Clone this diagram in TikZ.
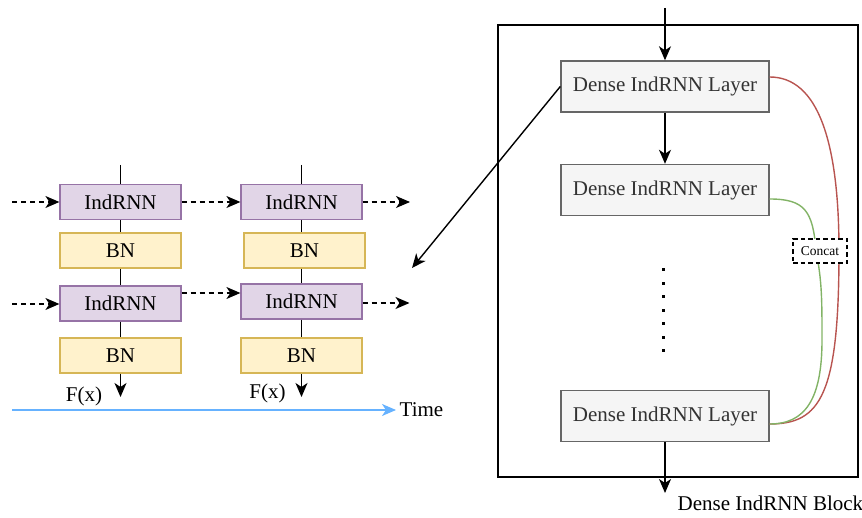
\documentclass[tikz,border=0pt]{standalone}
\usepackage{fontspec}
\setmainfont{Liberation Serif}
\usetikzlibrary{positioning,arrows.meta}
\definecolor{indfill}{HTML}{E1D5E7}
\definecolor{indline}{HTML}{9673A6}
\definecolor{bnfill}{HTML}{FFF2CC}
\definecolor{bnline}{HTML}{D6B656}
\definecolor{layfill}{HTML}{F5F5F5}
\definecolor{layline}{HTML}{666666}
\definecolor{laytext}{HTML}{333333}
\definecolor{redline}{HTML}{B85450}
\definecolor{greenline}{HTML}{82B366}
\definecolor{timeblue}{HTML}{66B2FF}
\tikzset{
  cellbox/.style={minimum width=121pt, minimum height=35pt, inner sep=0pt, line width=1.2pt},
  indbox/.style={cellbox, draw=indline, fill=indfill},
  bnbox/.style={cellbox, draw=bnline, fill=bnfill},
  layerbox/.style={draw=layline, fill=layfill, text=laytext, line width=1.4pt,
    minimum width=208pt, minimum height=51pt, inner sep=0pt},
  arr/.style={-{Stealth[length=14pt,width=12pt,inset=4pt]}},
  dasharr/.style={arr, dash pattern=on 5pt off 4pt},
}
\begin{document}
\begin{tikzpicture}[x=1pt, y=-1pt, line width=1.4pt, font=\fontsize{21}{25}\selectfont]
        \useasboundingbox (0,0) rectangle (862,518);
        % left: unrolled IndRNN cells
        \node [indbox] (i1a) at (120.5,202) {IndRNN};
        \node [bnbox, on grid, below=48.5pt of i1a] (b1a) {BN};
        \node [indbox, on grid, below=53pt of b1a] (i2a) {IndRNN};
        \node [bnbox, on grid, below=52pt of i2a] (b2a) {BN};
        \node [indbox, on grid, right=181pt of i1a] (i1b) {IndRNN};
        \node [bnbox, on grid, below right=48.5pt and 3pt of i1b] (b1b) {BN};
        \node [indbox, on grid, below left=51pt and 3pt of b1b] (i2b) {IndRNN};
        \node [bnbox, on grid, below=54pt of i2b] (b2b) {BN};
        \coordinate [on grid, above=37pt of i1a] (topa);
        \coordinate [on grid, above=37pt of i1b] (topb);
        \coordinate [on grid, below=41.5pt of b2a] (outa);
        \coordinate [on grid, below=41.5pt of b2b] (outb);
        \node [on grid, below left=40.5pt and 36.5pt of b2a] (fxa) {F(x)};
        \node [on grid, below left=37.5pt and 34pt of b2b] (fxb) {F(x)};
        \draw (topa) to (i1a);
        \draw (i1a) to (b1a);
        \draw (b1a) to (i2a);
        \draw (i2a) to (b2a);
        \draw [arr] (b2a) to (outa);
        \draw (topb) to (i1b);
        \draw (i1b) to (i1b |- b1b.north);
        \draw (b1b.south -| i2b) to (i2b);
        \draw (i2b) to (b2b);
        \draw [arr] (b2b) to (outb);
        % recurrent connections
        \coordinate [on grid, left=108.5pt of i1a] (ina1);
        \coordinate [on grid, left=108.5pt of i2a] (ina2);
        \coordinate [on grid, right=108.5pt of i1b] (outb1);
        \coordinate [on grid, right=108pt of i2b] (outb2);
        \draw [dasharr] (ina1) to (i1a);
        \draw [dasharr] (i1a) to (i1b);
        \draw [dasharr] (i1b) to (outb1);
        \draw [dasharr] ([yshift=-0.5pt]ina2) to ([yshift=-0.5pt]i2a.west);
        \draw [dasharr] ([yshift=10.5pt]i2a.east) to ([yshift=8.5pt]i2b.west);
        \draw [dasharr] ([yshift=-1.5pt]i2b.east) to ([yshift=-1.5pt]outb2);
        % time axis
        \coordinate (ts) at (12,410);
        \coordinate (te) at (396,410);
        \draw [arr, timeblue] (ts) to (te);
        \node [anchor=west, inner sep=0pt] (time) at ([xshift=3pt]te) {Time};
        % right: dense block
        \node [draw, line width=1.5pt, minimum width=360pt, minimum height=452pt] (blk) at (678,251) {};
        \node [layerbox] (d1) at (665,86.5) {Dense IndRNN Layer};
        \node [layerbox, on grid, below=103.5pt of d1] (d2) {Dense IndRNN Layer};
        \node [layerbox, on grid, below=226pt of d2] (d3) {Dense IndRNN Layer};
        \coordinate [on grid, above=78.5pt of d1] (din);
        \coordinate [on grid, below=77pt of d3] (dout);
        \node [anchor=west, inner sep=0pt] (blklbl) at (677,503) {Dense IndRNN Block};
        \draw [arr] (din) to (d1);
        \draw [arr] (d1) to (d2);
        \draw [arr] (d3) to (dout);
        \foreach \k in {0,...,6}
          \fill (661.5,268.5+13.5*\k) rectangle +(3,3);
        \coordinate (back) at (412,268);
        \draw [arr] (d1.west) to (back);
        % concatenation paths
        \coordinate (rmid) at (839,251);
        \coordinate (gmid) at (816,251);
        \draw [redline] ([yshift=9.5pt]d1.east) .. controls +(48,0) and +(0,-110) .. (rmid)
          .. controls +(0,144) and +(51,0) .. ([yshift=-8pt]d3.east);
        \draw [greenline] ([yshift=-9pt]d2.east) .. controls +(35,0) and +(-3,-40) .. (gmid)
          .. controls +(6,30) and +(0,-40) .. (822,340)
          .. controls +(0,60) and +(35,0) .. ([yshift=-8pt]d3.east);
        \node [draw, dash pattern=on 4.5pt off 3pt, fill=white, line width=1.4pt, minimum width=54pt, minimum height=24pt,
          inner sep=0pt, font=\fontsize{13.5}{16}\selectfont] (cc) at (820,251) {Concat};
      \end{tikzpicture}
\end{document}
